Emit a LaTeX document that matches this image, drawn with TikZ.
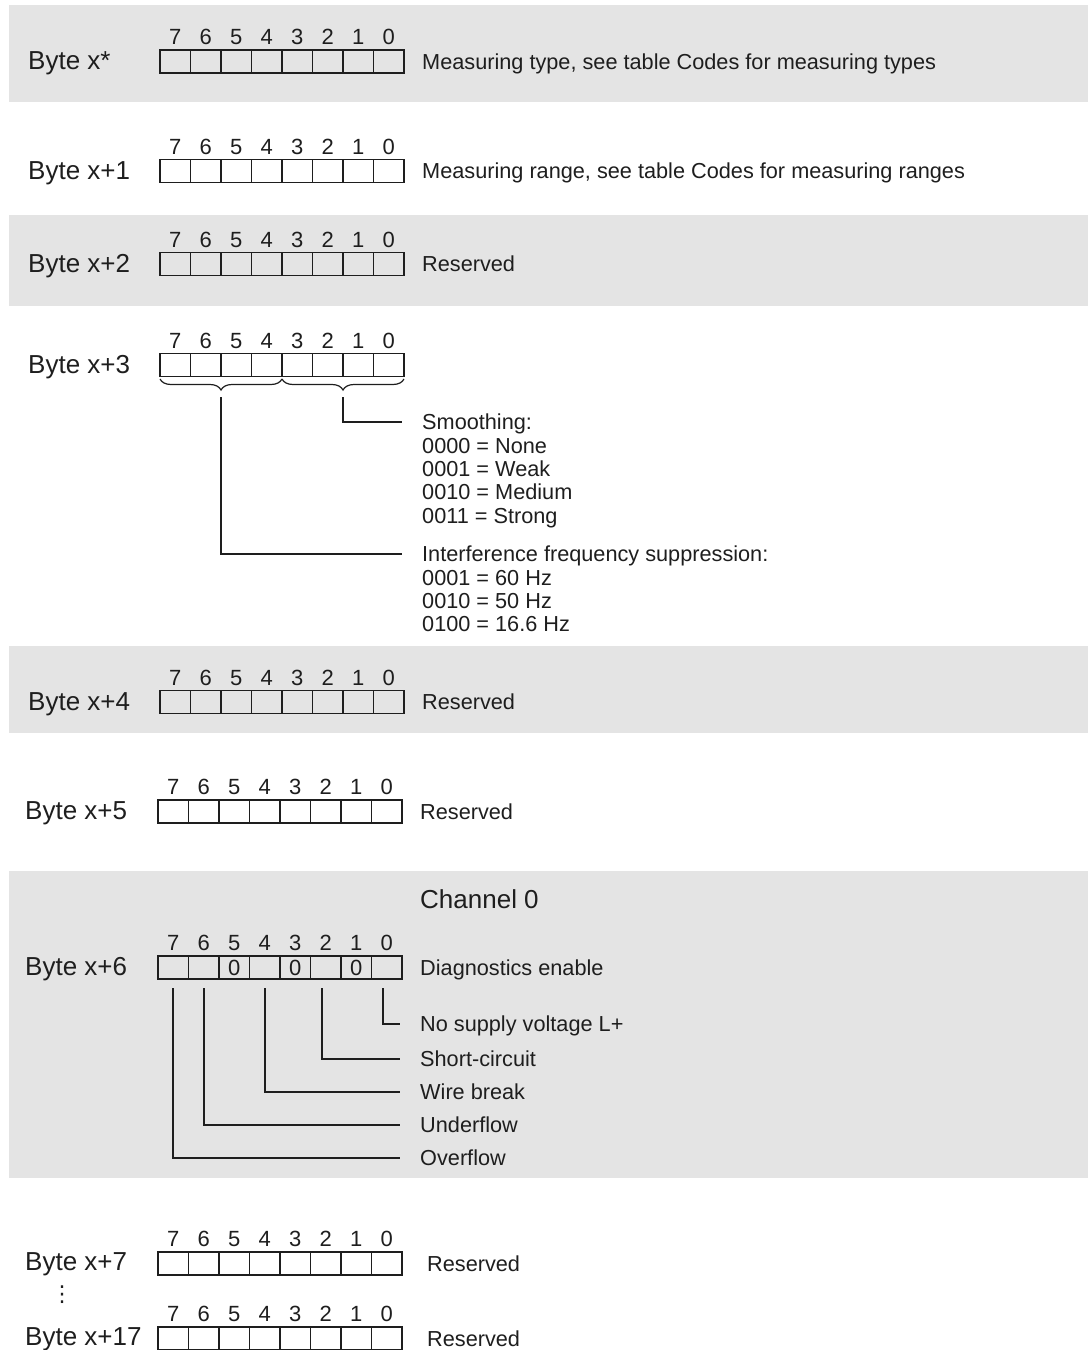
\documentclass[tikz,border=0pt]{standalone}
\usepackage{fontspec}
\setmainfont{Liberation Sans}
\newfontfamily\dejavu{DejaVu Sans}
\usetikzlibrary{positioning, calc}
\usetikzlibrary{decorations.pathreplacing}
\definecolor{bandgray}{RGB}{228,228,228}
\definecolor{ink}{RGB}{30,30,30}

\begin{document}
\begin{tikzpicture}[x=1pt,y=-1pt,
    cell/.style={draw=ink, line width=1.3pt, minimum width=30.5pt, minimum height=23pt, inner sep=0pt, outer sep=0pt},
    bitno/.style={inner sep=0pt, text=ink, font=\fontsize{22}{24}\selectfont, text height=15.7pt, text depth=0pt},
    bytelbl/.style={anchor=west, inner sep=0pt, text=ink, font=\fontsize{26}{30}\selectfont, text height=18.6pt, text depth=0pt},
    desc/.style={anchor=west, inner sep=0pt, text=ink, font=\fontsize{21.7}{23.3}\selectfont, text height=15.5pt, text depth=0pt},
    codes/.style={inner sep=0pt, text=ink, align=left, font=\fontsize{21.7}{23.3}\selectfont},
    wire/.style={draw=ink, line width=1.6pt, shorten >=20pt},
    brc/.style={draw=ink, decorate, decoration={brace, mirror, amplitude=11pt}, line width=1.2pt}]
\useasboundingbox (0,0) rectangle (1090,1350);

% grey bands
\foreach \t/\bt in {5/102, 215/306, 646/733, 871/1178}
    \fill[bandgray] (9,\t) rectangle (1088,\bt);

% bit cells with bit numbers
\foreach \r/\x/\y in {a/160/61.5, b/160/171, c/160/264, d/160/365, e/160/702,
                      f/158/811.5, g/158/967.5, h/158/1263.5, i/158/1338.5} {
    \foreach \b in {7,...,0} {
        \node[cell] (\r\b) at ({\x+(7-\b)*30.5+15.25},\y) {};
        \node[bitno, above=5pt of \r\b] (\r n\b) {\b};
    }
}
\foreach \b in {5,3,1}
    \node[bitno] (zero\b) at (g\b) {0};

% byte labels
\node[bytelbl] (lbla) at (28,60) {Byte x*};
\node[bytelbl] (lblb) at (28,170) {Byte x+1};
\node[bytelbl] (lblc) at (28,263) {Byte x+2};
\node[bytelbl] (lbld) at (28,364) {Byte x+3};
\node[bytelbl] (lble) at (28,701) {Byte x+4};
\node[bytelbl] (lblf) at (25,810) {Byte x+5};
\node[bytelbl] (lblg) at (25,966) {Byte x+6};
\node[bytelbl] (lblh) at (25,1261) {Byte x+7};
\node[bytelbl] (lbli) at (25,1336) {Byte x+17};
\node[inner sep=0pt, text=ink, font=\dejavu\fontsize{22}{24}\selectfont] (vdots) at (62,1295) {⋮};

% descriptions
\node[desc] (dsca) at (422,61.5) {Measuring type, see table Codes for measuring types};
\node[desc] (dscb) at (422,171) {Measuring range, see table Codes for measuring ranges};
\node[desc] (dscc) at (422,264) {Reserved};
\node[desc] (dsce) at (422,702) {Reserved};
\node[desc] (dscf) at (420,811.5) {Reserved};
\node[desc] (dsch) at (427,1263.5) {Reserved};
\node[desc] (dsci) at (427,1338.5) {Reserved};

% byte x+3: braces and codes
\draw[brc] ([yshift=-2.5pt]d7.south west) -- coordinate[midway, yshift=-18pt] (tipA) ([yshift=-2.5pt]d4.south east);
\draw[brc] ([yshift=-2.5pt]d3.south west) -- coordinate[midway, yshift=-18pt] (tipB) ([yshift=-2.5pt]d0.south east);
\node[desc] (smooth) at (422,422) {Smoothing:};
\node[codes, below right=8pt and 0pt of smooth.south west] (smoothcodes)
    {0000 = None\\0001 = Weak\\0010 = Medium\\0011 = Strong};
\node[desc] (interf) at (422,554) {Interference frequency suppression:};
\node[codes, below right=8pt and 0pt of interf.south west] (interfcodes)
    {0001 = 60 Hz\\0010 = 50 Hz\\0100 = 16.6 Hz};
\draw[wire] (tipB) |- (smooth.west);
\draw[wire] (tipA) |- (interf.west);

% byte x+6: diagnostics
\node[bytelbl] (chan) at (420,899) {Channel 0};
\node[desc] (diagen) at (420,967.5) {Diagnostics enable};
\node[desc] (nosup) at (420,1024) {No supply voltage L+};
\node[desc] (short) at (420,1059) {Short-circuit};
\node[desc] (wbreak) at (420,1092) {Wire break};
\node[desc] (uflow) at (420,1125) {Underflow};
\node[desc] (oflow) at (420,1158) {Overflow};
\draw[wire] ([xshift=-4pt,yshift=-9pt]g0.south) |- (nosup.west);
\draw[wire] ([xshift=-4pt,yshift=-9pt]g2.south) |- (short.west);
\draw[wire] ([yshift=-9pt]g4.south) |- (wbreak.west);
\draw[wire] ([yshift=-9pt]g6.south) |- (uflow.west);
\draw[wire] ([yshift=-9pt]g7.south) |- (oflow.west);
\end{tikzpicture}
\end{document}
